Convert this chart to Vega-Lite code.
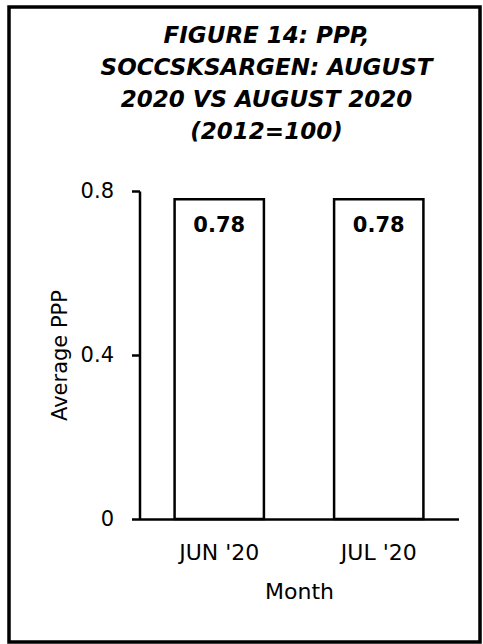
{
  "$schema": "https://vega.github.io/schema/vega-lite/v6.json",
  "width": 471,
  "height": 635,
  "autosize": "none",
  "padding": {"left": 9, "top": 7, "right": 3, "bottom": 2},
  "background": "#ffffff",
  "title": {
    "text": ["FIGURE 14: PPP,", "SOCCSKSARGEN: AUGUST", "2020 VS AUGUST 2020", "(2012=100)"],
    "frame": "group",
    "anchor": "middle",
    "orient": "top",
    "offset": -155,
    "baseline": "alphabetic",
    "lineHeight": 32,
    "font": "DejaVu Sans",
    "fontSize": 23,
    "fontWeight": "bold",
    "fontStyle": "italic",
    "color": "#000000",
    "dx": 22
  },
  "data": {"values": [
    {"month": "JUN '20", "ppp": 0.78},
    {"month": "JUL '20", "ppp": 0.78}
  ]},
  "encoding": {
    "x": {
      "field": "month", "type": "nominal", "sort": null,
      "scale": {"range": [130.5, 449.5], "paddingInner": 0.44, "paddingOuter": 0.22},
      "axis": {
        "title": "Month", "orient": "bottom", "offset": -123, "ticks": false, "tickSize": 0,
        "labelPadding": 23, "labelAngle": 0, "domainColor": "#000000", "domainWidth": 2.5,
        "labelFont": "DejaVu Sans", "labelFontSize": 22, "labelColor": "#000000",
        "titleFont": "DejaVu Sans", "titleFontSize": 22, "titleFontWeight": "normal",
        "titlePadding": 18, "titleColor": "#000000", "grid": false
      }
    },
    "y": {
      "field": "ppp", "type": "quantitative",
      "scale": {"domain": [0, 0.8], "range": [512, 184], "nice": false},
      "axis": {
        "title": "Average PPP", "offset": -130.5, "values": [0, 0.4, 0.8], "format": "~g",
        "tickSize": 8, "tickWidth": 2.5, "tickColor": "#000000",
        "domainWidth": 2.5, "domainColor": "#000000", "labelPadding": 18, "grid": false,
        "labelFont": "DejaVu Sans", "labelFontSize": 21, "labelColor": "#000000",
        "titleFont": "DejaVu Sans", "titleFontSize": 21, "titleFontWeight": "normal",
        "titlePadding": 10, "titleColor": "#000000"
      }
    }
  },
  "layer": [
    {"mark": {"type": "bar", "fill": "#ffffff", "stroke": "#000000", "strokeWidth": 2.5}},
    {
      "mark": {"type": "text", "baseline": "top", "dy": 16, "font": "DejaVu Sans", "fontSize": 21, "fontWeight": "bold", "color": "#000000"},
      "encoding": {"text": {"field": "ppp", "type": "quantitative", "format": ".2f"}}
    }
  ],
  "config": {
    "view": {"stroke": "#000000", "strokeWidth": 3.5, "fill": null}
  }
}
